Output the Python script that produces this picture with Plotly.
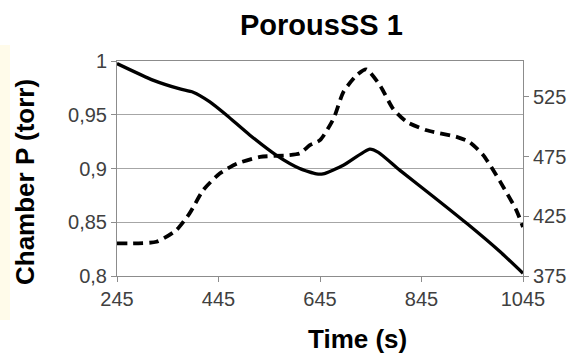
import plotly.graph_objects as go

# Chamber pressure (left axis) versus time
time_p = [245, 317, 369, 395, 428, 461, 507, 560, 605, 638, 651, 691, 743, 760, 802, 868, 934, 1000, 1045]
pressure = [0.9976, 0.982, 0.974, 0.971, 0.962, 0.9496, 0.931, 0.912, 0.900, 0.895, 0.895, 0.903, 0.918,
            0.9150, 0.8985, 0.874, 0.849, 0.8225, 0.8025]

# Temperature (right axis) versus time
time_t = [245, 323, 362, 388, 415, 448, 481, 527, 579, 605, 625, 645, 672, 691, 717, 736, 763, 789, 816,
          855, 914, 940, 967, 1000, 1032, 1045]
temperature = [402.3, 403.7, 413.5, 427.4, 447, 461, 469, 474.7, 476, 477.6, 484.5, 488.7, 507, 529, 543,
               548, 534.7, 515, 504, 497, 491.5, 487, 476, 454, 430, 416]

x_ticks = [245, 445, 645, 845, 1045]
p_ticks = [0.8, 0.85, 0.9, 0.95, 1.0]
p_tick_labels = ["0,8", "0,85", "0,9", "0,95", "1"]
t_ticks = [375, 425, 475, 525]

FONT = "Liberation Sans, Arial, sans-serif"
axis_grey = "#8c8c8c"
tick_font = dict(family=FONT, size=20, color="#404040")

# plot area in pixels
L, R, T, B = 117, 59, 61, 81
W, H = 582 - L - R, 357 - T - B

fig = go.Figure()
fig.add_trace(go.Scatter(
    x=time_p, y=pressure, mode="lines",
    line=dict(color="black", width=3.3, shape="spline", smoothing=0.6),
    yaxis="y", showlegend=False,
))
fig.add_trace(go.Scatter(
    x=time_t, y=temperature, mode="lines",
    line=dict(color="black", width=3.8, dash="10px,6px", shape="spline", smoothing=0.6),
    yaxis="y2", showlegend=False,
))

fig.update_layout(
    width=582, height=357,
    margin=dict(l=L, r=R, t=T, b=B),
    paper_bgcolor="white", plot_bgcolor="white",
    xaxis=dict(
        range=[245, 1045], tickvals=x_ticks, ticks="outside", ticklen=5, tickcolor=axis_grey,
        showline=True, linecolor=axis_grey, linewidth=1, mirror=True, showgrid=False, zeroline=False,
        tickfont=tick_font,
    ),
    yaxis=dict(
        range=[0.8, 1.0], tickvals=p_ticks, ticktext=p_tick_labels, ticks="outside", ticklen=5,
        tickcolor=axis_grey, showline=True, linecolor=axis_grey, linewidth=1,
        showgrid=True, gridcolor="#a6a6a6", gridwidth=1, zeroline=False, tickfont=tick_font,
    ),
    yaxis2=dict(
        range=[375, 555], tickvals=t_ticks, overlaying="y", side="right", ticks="outside", ticklen=5,
        tickcolor=axis_grey, showline=True, linecolor=axis_grey, linewidth=1,
        showgrid=False, zeroline=False, tickfont=tick_font,
    ),
    annotations=[
        dict(text="<b>PorousSS 1</b>", xref="paper", yref="paper",
             x=(321 - L) / W, y=(357 - B - 25) / H, xanchor="center", yanchor="middle",
             showarrow=False, font=dict(family=FONT, size=29, color="black")),
        dict(text="<b>Time (s)</b>", xref="paper", yref="paper",
             x=(357 - L) / W, y=(357 - B - 339) / H, xanchor="center", yanchor="middle",
             showarrow=False, font=dict(family=FONT, size=26, color="black")),
        dict(text="<b>Chamber P (torr)</b>", xref="paper", yref="paper", textangle=-90,
             x=(25 - L) / W, y=(357 - B - 182) / H, xanchor="center", yanchor="middle",
             showarrow=False, font=dict(family=FONT, size=26, color="black")),
    ],
    shapes=[dict(type="rect", xref="paper", yref="paper", x0=-L / W, x1=(10 - L) / W,
                 y0=(357 - B - 320) / H, y1=(357 - B - 45) / H,
                 fillcolor="#fffbea", line=dict(width=0), layer="below")],
)

fig.write_html("out.html")
